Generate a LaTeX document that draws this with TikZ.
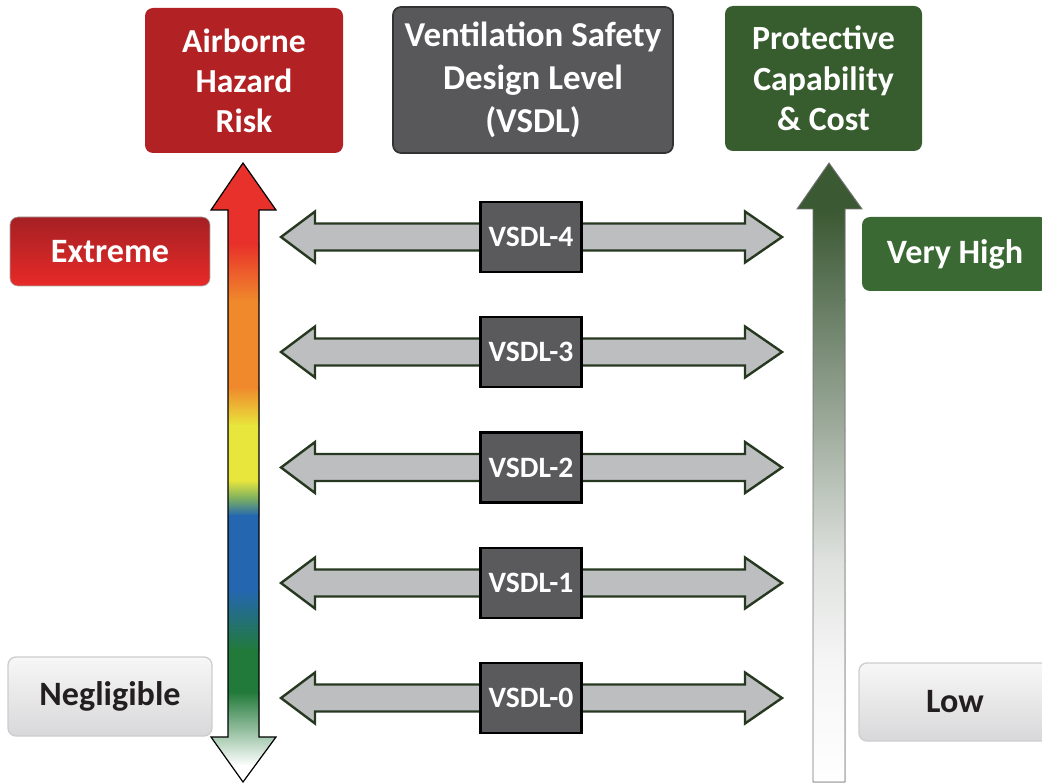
\documentclass[tikz,border=0pt]{standalone}
\usepackage{fontspec}
\setmainfont{Carlito}
\definecolor{hred}{RGB}{178,34,36}
\definecolor{hgray}{RGB}{88,88,90}
\definecolor{hgreen}{RGB}{55,93,47}
\definecolor{vgray}{RGB}{90,90,92}
\definecolor{arrowfill}{RGB}{189,190,192}
\definecolor{arrowgreen}{RGB}{38,56,32}
\definecolor{exttop}{RGB}{165,32,36}
\definecolor{extbot}{RGB}{232,42,40}
\definecolor{vhigh}{RGB}{58,105,52}
\definecolor{ltop}{RGB}{247,247,247}
\definecolor{lbot}{RGB}{216,216,218}
\definecolor{lborder}{RGB}{205,205,207}
\definecolor{txtdark}{RGB}{35,31,32}
\definecolor{cred}{RGB}{232,49,43}
\definecolor{corange}{RGB}{240,137,44}
\definecolor{cyellow}{RGB}{232,230,60}
\definecolor{cyg}{RGB}{126,176,96}
\definecolor{cblue}{RGB}{36,103,176}
\definecolor{cgreen}{RGB}{34,122,58}
\definecolor{rg1}{RGB}{59,89,50}
\definecolor{rg2}{RGB}{100,122,96}
\definecolor{rg3}{RGB}{160,173,158}
\definecolor{rg4}{RGB}{222,225,222}
\definecolor{rg5}{RGB}{245,245,245}
\begin{document}
\begin{tikzpicture}[x=0.75pt,y=-0.75pt,
  hdr/.style={rounded corners=6pt, text=white, align=center, inner sep=0pt,
    font=\bfseries\fontsize{25.2}{30}\selectfont},
  lvl/.style={rounded corners=6pt, inner sep=0pt, font=\bfseries\fontsize{25.6}{30}\selectfont},
  vsdl/.style={draw=black, line width=1.8pt, fill=vgray, text=white, inner sep=0pt,
    font=\bfseries\fontsize{22.2}{26}\selectfont, minimum width=75.75pt, minimum height=52.5pt},
  harrow/.style={draw=arrowgreen, line width=1.8pt, fill=arrowfill, line join=miter}]
\useasboundingbox (0,0) rectangle (1042,784);
\clip (0,0) rectangle (1042,784);

% header boxes
\node[hdr, fill=hred, minimum width=148.5pt, minimum height=108.75pt] (risk) at (244,80.5) {Airborne\\Hazard\\Risk};
\node[hdr, fill=hgray, draw=black!80, line width=1.3pt, minimum width=210pt, minimum height=109.5pt,
  font=\bfseries\fontsize{26.2}{32.5}\selectfont] (vsdlhead) at (533,80) {Ventilation Safety\\Design Level\\(VSDL)};
\node[hdr, fill=hgreen, minimum width=147.75pt, minimum height=108.75pt,
  font=\bfseries\fontsize{25.4}{30.5}\selectfont] (cost) at (823.5,78.5) {Protective\\Capability\\\& Cost};

% level labels
\node[lvl, top color=exttop, bottom color=extbot, draw=black!35, line width=0.5pt, text=white,
  minimum width=150pt, minimum height=51.75pt] (extreme) at (110,251.5) {Extreme};
\node[lvl, fill=vhigh, text=white, minimum width=139.5pt, minimum height=55.5pt] (vhighnode) at (955,254) {Very High};
\node[lvl, top color=ltop, bottom color=lbot, draw=lborder, line width=1pt, text=txtdark,
  minimum width=153pt, minimum height=59.25pt] (neg) at (110,696.5) {Negligible};
\node[lvl, top color=ltop, bottom color=lbot, draw=lborder, line width=1pt, text=txtdark,
  minimum width=144pt, minimum height=58.5pt] (low) at (955,702) {Low};

% left risk arrow
\begin{scope}
\clip (243,163) -- (276,210) -- (259,210) -- (259,737) -- (276,737) -- (243,782) -- (211,737) -- (228,737) -- (228,210) -- (211,210) -- cycle;
\fill[cred] (200,150) rectangle (290,245);
\fill[top color=cred, bottom color=corange] (200,244) rectangle (290,301);
\fill[corange] (200,300) rectangle (290,388);
\fill[top color=corange, bottom color=cyellow] (200,387) rectangle (290,426);
\fill[cyellow] (200,425) rectangle (290,481);
\fill[top color=cyellow, bottom color=cblue, middle color=cyg] (200,480) rectangle (290,516);
\fill[cblue] (200,515) rectangle (290,591);
\fill[top color=cblue, bottom color=cgreen] (200,590) rectangle (290,651);
\fill[cgreen] (200,650) rectangle (290,693);
\fill[top color=cgreen, bottom color=white] (200,692) rectangle (290,766);
\fill[white] (200,765) rectangle (290,790);
\end{scope}
\draw[line width=0.9pt, black, line join=miter] (243,163) -- (276,210) -- (259,210) -- (259,737) -- (276,737) -- (243,782) -- (211,737) -- (228,737) -- (228,210) -- (211,210) -- cycle;

% right capability arrow
\begin{scope}
\clip (829,163) -- (862,209) -- (845,209) -- (845,782) -- (813,782) -- (813,209) -- (797,209) -- cycle;
\fill[rg1] (790,150) rectangle (870,211);
\fill[top color=rg1, bottom color=rg2] (790,210) rectangle (870,301);
\fill[top color=rg2, bottom color=rg3] (790,300) rectangle (870,431);
\fill[top color=rg3, bottom color=rg4] (790,430) rectangle (870,561);
\fill[top color=rg4, bottom color=rg5] (790,560) rectangle (870,661);
\fill[top color=rg5, bottom color=white] (790,660) rectangle (870,790);
\end{scope}
\draw[line width=0.7pt, black!55, line join=miter] (829,163) -- (862,209) -- (845,209) -- (845,782) -- (813,782) -- (813,209) -- (797,209) -- cycle;

% VSDL double arrows
\foreach \n/\y in {4/237,3/352,2/467.5,1/583,0/698}{
  \draw[harrow] (281,\y) -- (315,\y-25.5) -- (315,\y-13.5) -- (745,\y-13.5) -- (745,\y-25.5) -- (782,\y)
    -- (745,\y+25.5) -- (745,\y+13.5) -- (315,\y+13.5) -- (315,\y+25.5) -- cycle;
  \node[vsdl] (v\n) at (531,\y) {VSDL-\n};
}
\end{tikzpicture}
\end{document}
